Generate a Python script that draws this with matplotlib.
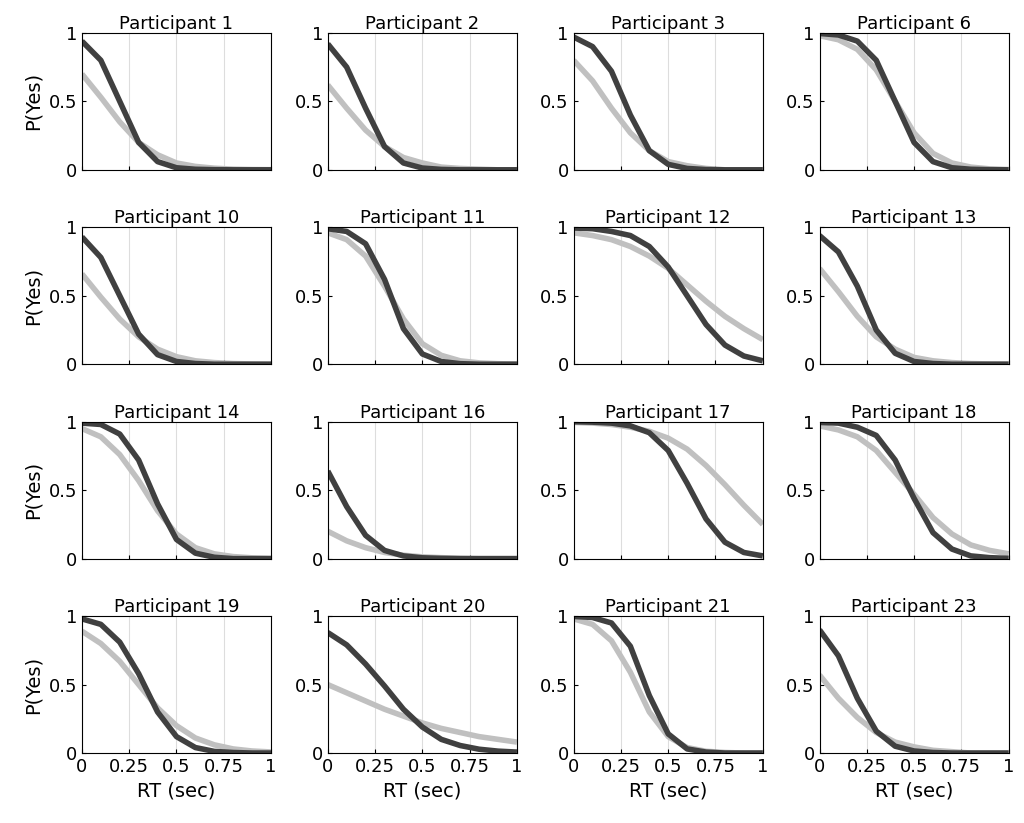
import numpy as np
import matplotlib
matplotlib.use("Agg")
import matplotlib.pyplot as plt

rt = [0, 0.1, 0.2, 0.3, 0.4, 0.5, 0.6, 0.7, 0.8, 0.9, 1.0]
participants = [1, 2, 3, 6, 10, 11, 12, 13, 14, 16, 17, 18, 19, 20, 21, 23]

# values at each RT
dark = [
    [.94, .80, .50, .20, .06, .015, .004, .001, 0, 0, 0],
    [.92, .75, .45, .17, .05, .013, .003, 0, 0, 0, 0],
    [.97, .90, .72, .40, .14, .04, .01, .002, 0, 0, 0],
    [.996, .985, .94, .80, .50, .20, .06, .015, .004, .001, 0],
    [.93, .78, .50, .22, .07, .02, .005, 0, 0, 0, 0],
    [.99, .97, .88, .62, .26, .075, .02, .004, 0, 0, 0],
    [.995, .99, .97, .94, .86, .71, .50, .29, .14, .06, .025],
    [.94, .82, .57, .25, .08, .02, .005, 0, 0, 0, 0],
    [.99, .98, .91, .72, .40, .14, .04, .01, 0, 0, 0],
    [.64, .38, .17, .06, .02, .006, .002, 0, 0, 0, 0],
    [1.0, .997, .99, .97, .92, .79, .55, .29, .12, .045, .02],
    [.995, .99, .96, .90, .72, .44, .19, .07, .02, .007, .002],
    [.98, .94, .81, .58, .30, .12, .04, .012, .004, 0, 0],
    [.88, .79, .65, .49, .32, .19, .10, .055, .028, .014, .007],
    [.998, .99, .95, .78, .42, .14, .03, .007, 0, 0, 0],
    [.90, .71, .40, .16, .05, .015, .004, 0, 0, 0, 0],
]
light = [
    [.70, .53, .35, .20, .11, .05, .025, .012, .005, .002, .001],
    [.62, .45, .29, .17, .09, .05, .02, .01, .005, 0, 0],
    [.80, .65, .45, .27, .14, .06, .03, .01, 0, 0, 0],
    [.98, .95, .88, .73, .50, .27, .12, .05, .02, .007, .002],
    [.66, .49, .33, .20, .11, .055, .025, .012, .005, .002, 0],
    [.96, .91, .79, .57, .33, .15, .065, .025, .01, .004, .001],
    [.96, .94, .91, .86, .79, .70, .58, .46, .35, .26, .18],
    [.70, .53, .35, .20, .11, .05, .025, .012, .005, .002, .001],
    [.95, .89, .76, .57, .35, .18, .08, .035, .015, .006, .002],
    [.20, .13, .08, .045, .025, .013, .007, .003, 0, 0, 0],
    [.995, .99, .98, .96, .93, .88, .80, .68, .54, .39, .25],
    [.97, .94, .89, .79, .63, .47, .30, .18, .10, .06, .035],
    [.89, .80, .67, .50, .33, .20, .11, .06, .03, .015, .008],
    [.50, .44, .38, .32, .27, .22, .18, .15, .12, .10, .08],
    [.98, .94, .82, .59, .30, .12, .04, .013, .004, 0, 0],
    [.57, .40, .26, .15, .08, .045, .02, .01, 0, 0, 0],
]

plt.rcParams["font.family"] = ["DejaVu Sans"]
fig, axes = plt.subplots(4, 4, figsize=(10.24, 8.23), dpi=100)
fig.subplots_adjust(left=0.08, right=0.985, top=0.96, bottom=0.085, wspace=0.3, hspace=0.42)

for i, ax in enumerate(axes.flat):
    ax.plot(rt, light[i], color="#c0c0c0", lw=4, solid_capstyle="butt")
    ax.plot(rt, dark[i], color="#404040", lw=4, solid_capstyle="butt")
    ax.set_xlim(0, 1)
    ax.set_ylim(0, 1)
    ax.set_xticks([0, 0.25, 0.5, 0.75, 1])
    ax.set_yticks([0, 0.5, 1])
    ax.set_yticklabels(["0", "0.5", "1"])
    ax.grid(axis="x", color="#dddddd", lw=0.8)
    ax.tick_params(labelsize=13, direction="in", length=3)
    ax.set_title(f"Participant {participants[i]}", fontsize=13, pad=3)
    if i >= 12:
        ax.set_xticklabels(["0", "0.25", "0.5", "0.75", "1"])
        ax.set_xlabel("RT (sec)", fontsize=14)
    else:
        ax.set_xticklabels([])
    if i % 4 == 0:
        ax.set_ylabel("P(Yes)", fontsize=14)

fig.savefig("out.png", dpi=100)
